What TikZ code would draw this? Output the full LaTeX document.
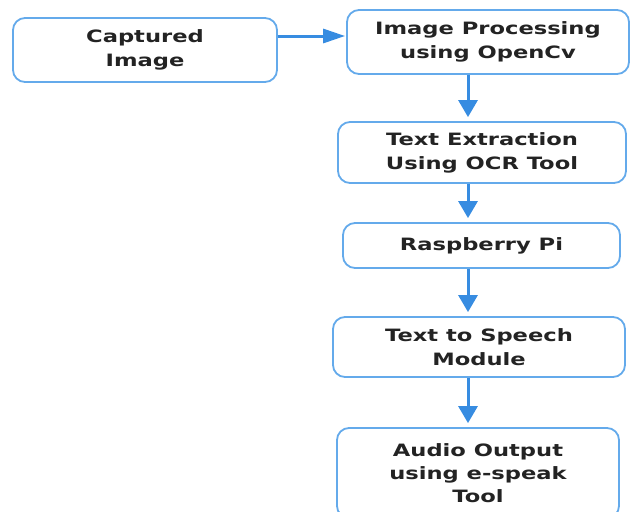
\documentclass[tikz,border=0pt]{standalone}
\usepackage{fontspec}
\newfontfamily\boxfont{DejaVu Sans}[FakeStretch=1.33]
\usetikzlibrary{arrows.meta}
\definecolor{boxblue}{RGB}{100,170,235}
\definecolor{arrblue}{RGB}{55,140,225}
\definecolor{txtcol}{RGB}{35,35,35}
\tikzset{
  flowbox/.style={draw=boxblue, line width=1.8pt, rounded corners=12pt, fill=white,
    align=center, text=txtcol, inner sep=0pt,
    font=\boxfont\bfseries\fontsize{17}{24}\selectfont},
  flowarrow/.style={draw=arrblue, line width=3pt,
    -{Triangle[width=19pt,length=17pt]}, shorten >=4pt},
  harrow/.style={draw=arrblue, line width=3pt,
    -{Triangle[width=14pt,length=22pt]}, shorten >=1pt}
}
\begin{document}
\begin{tikzpicture}[x=1pt,y=-1pt]
\useasboundingbox (0,0) rectangle (630,512);
\node[flowbox, minimum width=264pt, minimum height=64pt] (cap) at (145,50) {Captured\\Image};
\node[flowbox, minimum width=282pt, minimum height=64pt] (ip) at (488,42) {Image Processing\\using OpenCv};
\node[flowbox, minimum width=288pt, minimum height=61pt] (te) at (482,152.5) {Text Extraction\\Using OCR Tool};
\node[flowbox, minimum width=277pt, minimum height=45pt] (rp) at (481.5,245.5) {Raspberry Pi};
\node[flowbox, minimum width=292pt, minimum height=60pt] (tts) at (479,347) {Text to Speech\\Module};
\node[flowbox, minimum width=282pt, minimum height=90pt, font=\boxfont\bfseries\fontsize{17}{23}\selectfont] (ao) at (478,473) {Audio Output\\using e-speak\\Tool};
\coordinate (ax) at (468,0);
\coordinate (hy) at (0,36);
\draw[harrow] (cap.east |- hy) -- (ip.west |- hy);
\draw[flowarrow] (ip.south -| ax) -- (te.north -| ax);
\draw[flowarrow] (te.south -| ax) -- (rp.north -| ax);
\draw[flowarrow] (rp.south -| ax) -- (tts.north -| ax);
\draw[flowarrow] (tts.south -| ax) -- (ao.north -| ax);
\end{tikzpicture}
\end{document}
